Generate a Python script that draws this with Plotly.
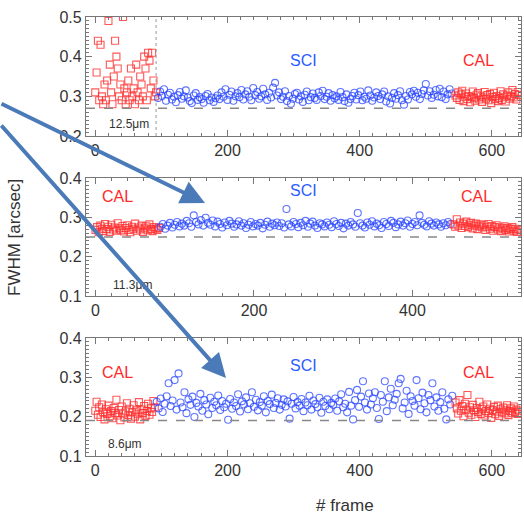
import plotly.graph_objects as go

# ---------------- data ----------------
top_cal1_start, top_cal1_step = 0, 2
top_cal1 = [0.31, 0.36, 0.44, 0.29, 0.43, 0.30, 0.28, 0.33, 0.29, 0.34,
            0.49, 0.38, 0.31, 0.28, 0.35, 0.44, 0.40, 0.37, 0.30, 0.33,
            0.29, 0.50, 0.32, 0.28, 0.31, 0.34, 0.29, 0.37, 0.30, 0.32,
            0.28, 0.38, 0.31, 0.29, 0.35, 0.33, 0.30, 0.40, 0.37, 0.29,
            0.41, 0.39, 0.32, 0.41, 0.34, 0.30, 0.31]
top_sci_start, top_sci_step = 95, 3
top_sci = [0.296, 0.312, 0.301, 0.318, 0.289, 0.304, 0.309, 0.292, 0.299, 0.285,
           0.303, 0.311, 0.294, 0.300, 0.315, 0.297, 0.288, 0.283, 0.302, 0.308,
           0.291, 0.298, 0.293, 0.284, 0.301, 0.306, 0.290, 0.297, 0.286, 0.295,
           0.302, 0.293, 0.310, 0.299, 0.318, 0.291, 0.304, 0.312, 0.289, 0.300,
           0.308, 0.298, 0.316, 0.292, 0.305, 0.313, 0.299, 0.290, 0.321, 0.303,
           0.311, 0.294, 0.300, 0.319, 0.305, 0.291, 0.309, 0.297, 0.322, 0.334,
           0.302, 0.310, 0.293, 0.299, 0.313, 0.288, 0.301, 0.281, 0.294, 0.306,
           0.309, 0.292, 0.300, 0.286, 0.304, 0.312, 0.290, 0.298, 0.307, 0.296,
           0.291, 0.310, 0.301, 0.314, 0.293, 0.299, 0.308, 0.289, 0.303, 0.295,
           0.300, 0.291, 0.311, 0.298, 0.288, 0.305, 0.284, 0.293, 0.301, 0.309,
           0.292, 0.303, 0.312, 0.290, 0.299, 0.294, 0.315, 0.302, 0.289, 0.297,
           0.310, 0.301, 0.293, 0.305, 0.312, 0.287, 0.300, 0.282, 0.296, 0.308,
           0.294, 0.303, 0.313, 0.290, 0.279, 0.301, 0.292, 0.311, 0.305, 0.314,
           0.299, 0.309, 0.293, 0.306, 0.315, 0.331, 0.302, 0.313, 0.296, 0.304,
           0.316, 0.300, 0.319, 0.298, 0.312, 0.293, 0.305, 0.318, 0.307]
top_cal2_start, top_cal2_step = 545, 2
top_cal2 = [0.302, 0.296, 0.310, 0.291, 0.305, 0.314, 0.288, 0.299, 0.307, 0.293,
            0.301, 0.285, 0.298, 0.312, 0.295, 0.289, 0.304, 0.308, 0.292, 0.300,
            0.286, 0.297, 0.311, 0.294, 0.303, 0.290, 0.306, 0.283, 0.298, 0.309,
            0.293, 0.301, 0.288, 0.296, 0.313, 0.291, 0.305, 0.299, 0.287, 0.302,
            0.310, 0.294, 0.300, 0.316, 0.297, 0.306, 0.292, 0.311, 0.303]

mid_cal1_start, mid_cal1_step = 0, 2
mid_cal1 = [0.268, 0.275, 0.262, 0.279, 0.271, 0.265, 0.283, 0.270, 0.276, 0.263,
            0.281, 0.269, 0.274, 0.266, 0.285, 0.272, 0.267, 0.278, 0.264, 0.273,
            0.280, 0.268, 0.262, 0.276, 0.271, 0.284, 0.266, 0.274, 0.269, 0.279,
            0.263, 0.272, 0.277, 0.267, 0.282, 0.270, 0.265, 0.275, 0.271, 0.268,
            0.273]
mid_sci_start, mid_sci_step = 82, 3
mid_sci = [0.276, 0.283, 0.271, 0.279, 0.286, 0.274, 0.281, 0.288, 0.277, 0.284,
           0.279, 0.291, 0.285, 0.276, 0.305, 0.288, 0.282, 0.293, 0.279, 0.299,
           0.286, 0.281, 0.292, 0.277, 0.289, 0.283, 0.274, 0.287, 0.280, 0.291,
           0.284, 0.276, 0.282, 0.290, 0.279, 0.285, 0.273, 0.281, 0.288, 0.277,
           0.283, 0.279, 0.286, 0.272, 0.281, 0.289, 0.276, 0.284, 0.280, 0.287,
           0.278, 0.285, 0.274, 0.321, 0.282, 0.277, 0.288, 0.283, 0.275, 0.286,
           0.280, 0.291, 0.276, 0.284, 0.289, 0.279, 0.273, 0.285, 0.282, 0.277,
           0.287, 0.281, 0.275, 0.290, 0.283, 0.278, 0.286, 0.272, 0.284, 0.279,
           0.288, 0.282, 0.276, 0.311, 0.285, 0.279, 0.274, 0.287, 0.281, 0.290,
           0.277, 0.284, 0.280, 0.273, 0.288, 0.283, 0.278, 0.291, 0.286, 0.275,
           0.282, 0.289, 0.279, 0.285, 0.292, 0.276, 0.283, 0.288, 0.280, 0.305,
           0.286, 0.281, 0.277, 0.290, 0.284, 0.279, 0.287, 0.282, 0.276, 0.285,
           0.280, 0.288, 0.283]
mid_cal2_start, mid_cal2_step = 452, 2
mid_cal2 = [0.282, 0.276, 0.295, 0.279, 0.287, 0.273, 0.284, 0.278, 0.289, 0.275,
            0.281, 0.286, 0.272, 0.279, 0.284, 0.270, 0.277, 0.282, 0.274, 0.280,
            0.268, 0.276, 0.283, 0.271, 0.278, 0.266, 0.275, 0.280, 0.269, 0.274,
            0.265, 0.272, 0.277, 0.268, 0.273, 0.264, 0.270, 0.275, 0.266, 0.271,
            0.263, 0.269, 0.267]

bot_cal1_start, bot_cal1_step = 0, 2
bot_cal1 = [0.215, 0.238, 0.205, 0.224, 0.199, 0.231, 0.211, 0.193, 0.219, 0.207,
            0.228, 0.201, 0.214, 0.196, 0.222, 0.209, 0.243, 0.203, 0.217, 0.191,
            0.226, 0.208, 0.198, 0.213, 0.234, 0.204, 0.220, 0.195, 0.211, 0.229,
            0.200, 0.216, 0.206, 0.237, 0.193, 0.218, 0.209, 0.227, 0.202, 0.214,
            0.233, 0.205, 0.221, 0.212, 0.240, 0.224]
bot_sci_start, bot_sci_step = 93, 3
bot_sci = [0.238, 0.221, 0.246, 0.212, 0.233, 0.252, 0.285, 0.227, 0.241, 0.293,
           0.218, 0.310, 0.236, 0.224, 0.262, 0.209, 0.244, 0.230, 0.251, 0.199,
           0.235, 0.226, 0.258, 0.215, 0.242, 0.231, 0.206, 0.248, 0.222, 0.238,
           0.229, 0.254, 0.217, 0.240, 0.224, 0.233, 0.192, 0.245, 0.220, 0.236,
           0.227, 0.257, 0.213, 0.239, 0.231, 0.249, 0.219, 0.234, 0.262, 0.225,
           0.243, 0.216, 0.237, 0.228, 0.252, 0.211, 0.240, 0.232, 0.256, 0.222,
           0.235, 0.247, 0.218, 0.230, 0.244, 0.226, 0.239, 0.195, 0.233, 0.250,
           0.221, 0.237, 0.228, 0.245, 0.214, 0.236, 0.229, 0.253, 0.218, 0.241,
           0.232, 0.224, 0.248, 0.210, 0.238, 0.227, 0.244, 0.219, 0.235, 0.230,
           0.246, 0.215, 0.239, 0.257, 0.224, 0.233, 0.211, 0.263, 0.228, 0.193,
           0.242, 0.268, 0.225, 0.251, 0.290, 0.236, 0.218, 0.259, 0.231, 0.247,
           0.262, 0.222, 0.194, 0.255, 0.238, 0.290, 0.214, 0.249, 0.271, 0.229,
           0.243, 0.258, 0.285, 0.296, 0.221, 0.236, 0.266, 0.207, 0.252, 0.240,
           0.228, 0.293, 0.247, 0.219, 0.261, 0.234, 0.211, 0.255, 0.242, 0.285,
           0.226, 0.249, 0.215, 0.237, 0.262, 0.220, 0.193, 0.244, 0.231, 0.253]
bot_cal2_start, bot_cal2_step = 545, 2
bot_cal2 = [0.236, 0.221, 0.208, 0.242, 0.215, 0.227, 0.201, 0.233, 0.218, 0.255,
            0.210, 0.224, 0.205, 0.230, 0.216, 0.199, 0.222, 0.212, 0.238, 0.207,
            0.219, 0.226, 0.203, 0.214, 0.231, 0.209, 0.220, 0.197, 0.217, 0.225,
            0.206, 0.213, 0.228, 0.202, 0.219, 0.211, 0.223, 0.208, 0.216, 0.229,
            0.204, 0.214, 0.221, 0.209, 0.226, 0.212, 0.218, 0.207, 0.215]

wavelengths = ["12.5μm", "11.3μm", "8.6μm"]
cutoffs = [0.27, 0.25, 0.19]          # dashed reference level per panel
y_ranges = [[0.2, 0.5], [0.1, 0.4], [0.1, 0.4]]
x_ranges = [[-14, 644], [-12, 537], [-14, 644]]
split_frame_top = 92                  # dotted vertical line in top panel

# label positions (frame, value)
sci_labels = [(315, 0.39), (263, 0.367), (315, 0.33)]
cal_left = [None, (28, 0.352), (33, 0.313)]
cal_right = [(579, 0.39), (481, 0.354), (579, 0.313)]
wl_pos = [(18, 0.23), (19, 0.128), (17, 0.13)]

# ---------------- figure ----------------
RED = "rgba(255,45,45,0.8)"
BLUE = "rgba(40,70,255,0.75)"
TXT = "#333333"
FONT = "Liberation Sans, Arial, Helvetica, sans-serif"

def frames(start, step, vals):
    return [start + step * i for i in range(len(vals))]

panels = [
    [(top_cal1_start, top_cal1_step, top_cal1, "cal"),
     (top_sci_start, top_sci_step, top_sci, "sci"),
     (top_cal2_start, top_cal2_step, top_cal2, "cal")],
    [(mid_cal1_start, mid_cal1_step, mid_cal1, "cal"),
     (mid_sci_start, mid_sci_step, mid_sci, "sci"),
     (mid_cal2_start, mid_cal2_step, mid_cal2, "cal")],
    [(bot_cal1_start, bot_cal1_step, bot_cal1, "cal"),
     (bot_sci_start, bot_sci_step, bot_sci, "sci"),
     (bot_cal2_start, bot_cal2_step, bot_cal2, "cal")],
]

W, H = 524, 518
xdom = [86 / W, 521 / W]
ydoms = [[1 - 136 / H, 1 - 17 / H], [1 - 296 / H, 1 - 178 / H], [1 - 456 / H, 1 - 338 / H]]

fig = go.Figure()
for p, series in enumerate(panels):
    xa = "x" if p == 0 else f"x{p+1}"
    ya = "y" if p == 0 else f"y{p+1}"
    for start, step, vals, kind in series:
        fig.add_trace(go.Scatter(
            x=frames(start, step, vals), y=vals, mode="markers",
            xaxis=xa, yaxis=ya, showlegend=False, hoverinfo="skip",
            marker=dict(symbol="square-open" if kind == "cal" else "circle-open",
                        size=7, color=RED if kind == "cal" else BLUE,
                        line=dict(width=1.1))))

layout = dict(width=W, height=H, margin=dict(l=0, r=0, t=0, b=0, autoexpand=False),
              paper_bgcolor="white", plot_bgcolor="white",
              font=dict(family=FONT, color=TXT), showlegend=False)
for p in range(3):
    sx = "" if p == 0 else str(p + 1)
    axis_common = dict(showline=True, linecolor="#777", linewidth=1.2, mirror="ticks",
                       ticks="inside", tickcolor="#777", showgrid=False, zeroline=False,
                       automargin=False,
                       tickfont=dict(size=16, color=TXT, family=FONT))
    layout["xaxis" + sx] = dict(axis_common, domain=xdom, range=x_ranges[p],
                                anchor="y" + sx, tick0=0, dtick=200, ticklen=6,
                                minor=dict(ticks="inside", dtick=20, ticklen=3, tickcolor="#777"))
    layout["yaxis" + sx] = dict(axis_common, domain=ydoms[p], range=y_ranges[p],
                                anchor="x" + sx, dtick=0.1, ticklen=6,
                                minor=dict(ticks="inside", dtick=0.01, ticklen=3, tickcolor="#777"))
fig.update_layout(**layout)

shapes = []
annotations = []
for p in range(3):
    sx = "" if p == 0 else str(p + 1)
    shapes.append(dict(type="line", xref=f"x{sx} domain", yref="y" + sx,
                       x0=0, x1=1, y0=cutoffs[p], y1=cutoffs[p],
                       line=dict(color="#888", width=1.5, dash="dash")))
    annotations.append(dict(x=sci_labels[p][0], y=sci_labels[p][1], xref="x" + sx, yref="y" + sx,
                            text="SCI", showarrow=False, font=dict(size=16, color="#2b5cff", family=FONT)))
    if cal_left[p]:
        annotations.append(dict(x=cal_left[p][0], y=cal_left[p][1], xref="x" + sx, yref="y" + sx,
                                text="CAL", showarrow=False, font=dict(size=16, color="#ff2a2a", family=FONT)))
    annotations.append(dict(x=cal_right[p][0], y=cal_right[p][1], xref="x" + sx, yref="y" + sx,
                            text="CAL", showarrow=False, font=dict(size=16, color="#ff2a2a", family=FONT)))
    annotations.append(dict(x=wl_pos[p][0], y=wl_pos[p][1], xref="x" + sx, yref="y" + sx,
                            text=wavelengths[p], showarrow=False, xanchor="left",
                            font=dict(size=12, color=TXT, family=FONT)))
shapes.append(dict(type="line", xref="x", yref="y domain", x0=split_frame_top, x1=split_frame_top,
                   y0=0, y1=1, line=dict(color="#999", width=1, dash="dot")))

annotations.append(dict(x=15 / W, y=1 - 238 / H, xref="paper", yref="paper", text="FWHM [arcsec]",
                        textangle=-90, showarrow=False, xanchor="center", yanchor="middle",
                        font=dict(size=17, color=TXT, family=FONT)))
annotations.append(dict(x=345 / W, y=1 - 505 / H, xref="paper", yref="paper", text="# frame",
                        showarrow=False, xanchor="center", yanchor="middle",
                        font=dict(size=17, color=TXT, family=FONT)))

ARROW = "#4a7ab8"
annotations.append(dict(x=205 / W, y=1 - 203 / H, xref="paper", yref="paper", ax=-209, ay=-100,
                        text="", showarrow=True, arrowhead=2, arrowsize=1.2, arrowwidth=4,
                        arrowcolor=ARROW, standoff=0))
annotations.append(dict(x=226 / W, y=1 - 378 / H, xref="paper", yref="paper", ax=-230, ay=-254,
                        text="", showarrow=True, arrowhead=2, arrowsize=1.2, arrowwidth=4,
                        arrowcolor=ARROW, standoff=0))

fig.update_layout(shapes=shapes, annotations=annotations)
fig.write_html("out.html")
